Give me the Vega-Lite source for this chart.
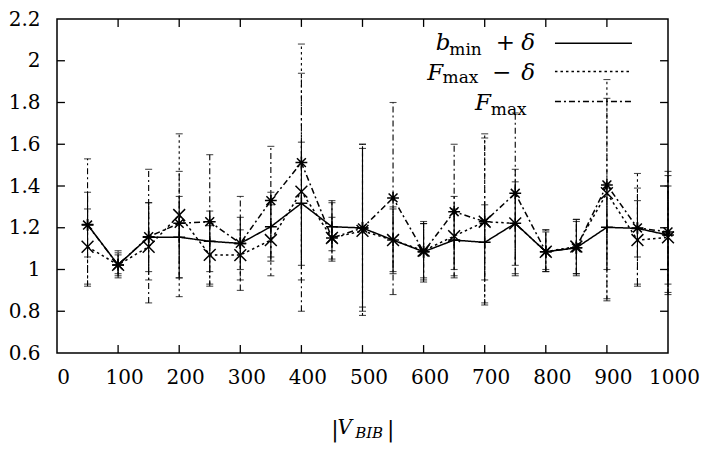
{
  "$schema": "https://vega.github.io/schema/vega-lite/v6.json",
  "autosize": "none",
  "padding": {"left": 57, "top": 19, "right": 41, "bottom": 99},
  "width": 611,
  "height": 334,
  "config": {
    "view": {"stroke": "#000", "strokeWidth": 1.5},
    "font": "DejaVu Serif",
    "axis": {
      "labelFont": "DejaVu Serif",
      "labelFontSize": 20,
      "labelColor": "#000",
      "labelOverlap": false,
      "labelFlush": false,
      "ticks": false,
      "tickSize": 0,
      "domain": false,
      "grid": false,
      "title": null
    }
  },
  "datasets": {
    "pts": [
      {"x": 50, "s": "bmin+δ", "y": 1.215, "lo": 1.06, "hi": 1.37},
      {"x": 100, "s": "bmin+δ", "y": 1.022, "lo": 0.97, "hi": 1.07},
      {"x": 150, "s": "bmin+δ", "y": 1.155, "lo": 0.99, "hi": 1.32},
      {"x": 200, "s": "bmin+δ", "y": 1.155, "lo": 0.96, "hi": 1.35},
      {"x": 250, "s": "bmin+δ", "y": 1.135, "lo": 0.99, "hi": 1.28},
      {"x": 300, "s": "bmin+δ", "y": 1.125, "lo": 1.0, "hi": 1.25},
      {"x": 350, "s": "bmin+δ", "y": 1.205, "lo": 1.04, "hi": 1.37},
      {"x": 400, "s": "bmin+δ", "y": 1.317, "lo": 1.02, "hi": 1.61},
      {"x": 450, "s": "bmin+δ", "y": 1.205, "lo": 1.09, "hi": 1.33},
      {"x": 500, "s": "bmin+δ", "y": 1.199, "lo": 0.82, "hi": 1.58},
      {"x": 550, "s": "bmin+δ", "y": 1.141, "lo": 0.99, "hi": 1.29},
      {"x": 600, "s": "bmin+δ", "y": 1.085, "lo": 0.95, "hi": 1.22},
      {"x": 650, "s": "bmin+δ", "y": 1.141, "lo": 1.0, "hi": 1.29},
      {"x": 700, "s": "bmin+δ", "y": 1.13, "lo": 0.95, "hi": 1.31},
      {"x": 750, "s": "bmin+δ", "y": 1.221, "lo": 1.02, "hi": 1.42},
      {"x": 800, "s": "bmin+δ", "y": 1.085, "lo": 0.99, "hi": 1.18},
      {"x": 850, "s": "bmin+δ", "y": 1.104, "lo": 0.98, "hi": 1.23},
      {"x": 900, "s": "bmin+δ", "y": 1.202, "lo": 1.0, "hi": 1.41},
      {"x": 950, "s": "bmin+δ", "y": 1.197, "lo": 1.06, "hi": 1.33},
      {"x": 1000, "s": "bmin+δ", "y": 1.165, "lo": 0.93, "hi": 1.4},
      {"x": 50, "s": "Fmax−δ", "y": 1.109, "lo": 0.93, "hi": 1.29},
      {"x": 100, "s": "Fmax−δ", "y": 1.022, "lo": 0.98, "hi": 1.09},
      {"x": 150, "s": "Fmax−δ", "y": 1.109, "lo": 0.95, "hi": 1.32},
      {"x": 200, "s": "Fmax−δ", "y": 1.261, "lo": 0.87, "hi": 1.65},
      {"x": 250, "s": "Fmax−δ", "y": 1.07, "lo": 0.93, "hi": 1.21},
      {"x": 300, "s": "Fmax−δ", "y": 1.069, "lo": 0.95, "hi": 1.19},
      {"x": 350, "s": "Fmax−δ", "y": 1.141, "lo": 0.97, "hi": 1.31},
      {"x": 400, "s": "Fmax−δ", "y": 1.373, "lo": 0.95, "hi": 2.08},
      {"x": 450, "s": "Fmax−δ", "y": 1.151, "lo": 1.05, "hi": 1.25},
      {"x": 500, "s": "Fmax−δ", "y": 1.185, "lo": 0.78, "hi": 1.6},
      {"x": 550, "s": "Fmax−δ", "y": 1.141, "lo": 0.98, "hi": 1.3},
      {"x": 600, "s": "Fmax−δ", "y": 1.09, "lo": 0.96, "hi": 1.22},
      {"x": 650, "s": "Fmax−δ", "y": 1.16, "lo": 0.97, "hi": 1.35},
      {"x": 700, "s": "Fmax−δ", "y": 1.229, "lo": 0.84, "hi": 1.65},
      {"x": 750, "s": "Fmax−δ", "y": 1.221, "lo": 0.97, "hi": 1.48},
      {"x": 800, "s": "Fmax−δ", "y": 1.085, "lo": 1.0, "hi": 1.19},
      {"x": 850, "s": "Fmax−δ", "y": 1.11, "lo": 0.97, "hi": 1.24},
      {"x": 900, "s": "Fmax−δ", "y": 1.366, "lo": 0.86, "hi": 1.91},
      {"x": 950, "s": "Fmax−δ", "y": 1.141, "lo": 0.92, "hi": 1.46},
      {"x": 1000, "s": "Fmax−δ", "y": 1.154, "lo": 0.89, "hi": 1.45},
      {"x": 50, "s": "Fmax", "y": 1.213, "lo": 0.92, "hi": 1.53},
      {"x": 100, "s": "Fmax", "y": 1.022, "lo": 0.96, "hi": 1.08},
      {"x": 150, "s": "Fmax", "y": 1.157, "lo": 0.84, "hi": 1.48},
      {"x": 200, "s": "Fmax", "y": 1.221, "lo": 0.96, "hi": 1.47},
      {"x": 250, "s": "Fmax", "y": 1.229, "lo": 0.92, "hi": 1.55},
      {"x": 300, "s": "Fmax", "y": 1.125, "lo": 0.9, "hi": 1.35},
      {"x": 350, "s": "Fmax", "y": 1.33, "lo": 1.06, "hi": 1.59},
      {"x": 400, "s": "Fmax", "y": 1.512, "lo": 0.8, "hi": 1.94},
      {"x": 450, "s": "Fmax", "y": 1.151, "lo": 1.04, "hi": 1.32},
      {"x": 500, "s": "Fmax", "y": 1.199, "lo": 0.8, "hi": 1.6},
      {"x": 550, "s": "Fmax", "y": 1.343, "lo": 0.88, "hi": 1.8},
      {"x": 600, "s": "Fmax", "y": 1.085, "lo": 0.94, "hi": 1.23},
      {"x": 650, "s": "Fmax", "y": 1.277, "lo": 0.96, "hi": 1.6},
      {"x": 700, "s": "Fmax", "y": 1.229, "lo": 0.83, "hi": 1.63},
      {"x": 750, "s": "Fmax", "y": 1.365, "lo": 0.98, "hi": 1.75},
      {"x": 800, "s": "Fmax", "y": 1.085, "lo": 0.99, "hi": 1.19},
      {"x": 850, "s": "Fmax", "y": 1.104, "lo": 0.98, "hi": 1.24},
      {"x": 900, "s": "Fmax", "y": 1.405, "lo": 0.85, "hi": 1.82},
      {"x": 950, "s": "Fmax", "y": 1.199, "lo": 0.93, "hi": 1.39},
      {"x": 1000, "s": "Fmax", "y": 1.18, "lo": 0.88, "hi": 1.47}
    ],
    "ticks": [
      {"axis": "x", "v": 100}, {"axis": "x", "v": 200}, {"axis": "x", "v": 300},
      {"axis": "x", "v": 400}, {"axis": "x", "v": 500}, {"axis": "x", "v": 600},
      {"axis": "x", "v": 700}, {"axis": "x", "v": 800}, {"axis": "x", "v": 900},
      {"axis": "y", "v": 0.8}, {"axis": "y", "v": 1.0}, {"axis": "y", "v": 1.2},
      {"axis": "y", "v": 1.4}, {"axis": "y", "v": 1.6}, {"axis": "y", "v": 1.8},
      {"axis": "y", "v": 2.0}
    ],
    "key": [
      {"s": "bmin+δ", "x1": 815, "x2": 941, "y": 2.084},
      {"s": "Fmax−δ", "x1": 815, "x2": 941, "y": 1.948},
      {"s": "Fmax", "x1": 815, "x2": 941, "y": 1.805}
    ],
    "words": [
      {"role": "sym", "t": "b", "x": 620, "y": 2.053},
      {"role": "sub", "t": "min", "x": 642, "y": 2.029},
      {"role": "op", "t": "+", "x": 718, "y": 2.053},
      {"role": "sym", "t": "δ", "x": 760, "y": 2.053},
      {"role": "sym", "t": "F", "x": 606, "y": 1.909},
      {"role": "sub", "t": "max", "x": 631, "y": 1.894},
      {"role": "op", "t": "−", "x": 712, "y": 1.909},
      {"role": "sym", "t": "δ", "x": 760, "y": 1.909},
      {"role": "sym", "t": "F", "x": 684, "y": 1.765},
      {"role": "sub", "t": "max", "x": 710, "y": 1.741},
      {"role": "bar", "t": "|", "x": 449, "y": 0.198},
      {"role": "var", "t": "V", "x": 459, "y": 0.212},
      {"role": "varsub", "t": "BIB", "x": 488, "y": 0.193},
      {"role": "bar", "t": "|", "x": 540, "y": 0.198}
    ]
  },
  "layer": [
    {
      "data": {"name": "pts"},
      "mark": {"type": "rule", "color": "#000", "strokeWidth": 1.1},
      "encoding": {
        "x": {"field": "x", "type": "quantitative", "scale": {"domain": [0, 1000], "nice": false},
              "axis": {"values": [0, 100, 200, 300, 400, 500, 600, 700, 800, 900, 1000], "format": "d", "labelPadding": 14, "labelOffset": 6}},
        "y": {"field": "lo", "type": "quantitative", "scale": {"domain": [0.6, 2.2], "nice": false, "zero": false},
              "axis": {"values": [0.6, 0.8, 1, 1.2, 1.4, 1.6, 1.8, 2, 2.2], "format": "~g", "labelPadding": 17}},
        "y2": {"field": "hi"},
        "strokeDash": {"field": "s", "type": "nominal", "legend": null,
          "scale": {"domain": ["bmin+δ", "Fmax−δ", "Fmax"], "range": [[1, 0], [2.5, 3], [6, 3, 2, 3]]}}
      }
    },
    {
      "data": {"name": "pts"},
      "mark": {"type": "tick", "orient": "horizontal", "color": "#000", "size": 7, "thickness": 1.1},
      "encoding": {
        "x": {"field": "x", "type": "quantitative"},
        "y": {"field": "hi", "type": "quantitative"}
      }
    },
    {
      "data": {"name": "pts"},
      "mark": {"type": "tick", "orient": "horizontal", "color": "#000", "size": 7, "thickness": 1.1},
      "encoding": {
        "x": {"field": "x", "type": "quantitative"},
        "y": {"field": "lo", "type": "quantitative"}
      }
    },
    {
      "data": {"name": "pts"},
      "mark": {"type": "line", "color": "#000", "strokeWidth": 1.5},
      "encoding": {
        "x": {"field": "x", "type": "quantitative"},
        "y": {"field": "y", "type": "quantitative"},
        "detail": {"field": "s"},
        "strokeDash": {"field": "s", "type": "nominal", "legend": null}
      }
    },
    {
      "data": {"name": "pts"},
      "mark": {"type": "point", "filled": false, "color": "#000", "strokeWidth": 1.5, "size": 140, "opacity": 1},
      "encoding": {
        "x": {"field": "x", "type": "quantitative"},
        "y": {"field": "y", "type": "quantitative"},
        "shape": {"field": "s", "type": "nominal", "legend": null,
          "scale": {"domain": ["bmin+δ", "Fmax−δ", "Fmax"],
                    "range": ["M-1,0L1,0M0,-1L0,1", "M-1,-1L1,1M-1,1L1,-1", "M-1,0L1,0M0,-1L0,1M-0.75,-0.75L0.75,0.75M-0.75,0.75L0.75,-0.75"]}}
      }
    },
    {
      "data": {"name": "ticks"},
      "transform": [{"filter": "datum.axis === 'y'"}],
      "mark": {"type": "rule", "color": "#000", "strokeWidth": 1.3},
      "encoding": {"x": {"datum": 0}, "x2": {"datum": 13}, "y": {"field": "v", "type": "quantitative"}}
    },
    {
      "data": {"name": "ticks"},
      "transform": [{"filter": "datum.axis === 'y'"}],
      "mark": {"type": "rule", "color": "#000", "strokeWidth": 1.3},
      "encoding": {"x": {"datum": 987}, "x2": {"datum": 1000}, "y": {"field": "v", "type": "quantitative"}}
    },
    {
      "data": {"name": "ticks"},
      "transform": [{"filter": "datum.axis === 'x'"}],
      "mark": {"type": "rule", "color": "#000", "strokeWidth": 1.3},
      "encoding": {"y": {"datum": 0.6}, "y2": {"datum": 0.638}, "x": {"field": "v", "type": "quantitative"}}
    },
    {
      "data": {"name": "ticks"},
      "transform": [{"filter": "datum.axis === 'x'"}],
      "mark": {"type": "rule", "color": "#000", "strokeWidth": 1.3},
      "encoding": {"y": {"datum": 2.162}, "y2": {"datum": 2.2}, "x": {"field": "v", "type": "quantitative"}}
    },
    {
      "data": {"name": "key"},
      "mark": {"type": "rule", "color": "#000", "strokeWidth": 1.5},
      "encoding": {
        "x": {"field": "x1", "type": "quantitative"},
        "x2": {"field": "x2"},
        "y": {"field": "y", "type": "quantitative"},
        "strokeDash": {"field": "s", "type": "nominal", "legend": null}
      }
    },
    {
      "data": {"name": "words"},
      "transform": [{"filter": "datum.role === 'sym'"}],
      "mark": {"type": "text", "align": "left", "baseline": "alphabetic", "font": "DejaVu Serif", "fontStyle": "italic", "fontSize": 23, "color": "#000"},
      "encoding": {
        "x": {"field": "x", "type": "quantitative"},
        "y": {"field": "y", "type": "quantitative"},
        "text": {"field": "t"}
      }
    },
    {
      "data": {"name": "words"},
      "transform": [{"filter": "datum.role === 'sub'"}],
      "mark": {"type": "text", "align": "left", "baseline": "alphabetic", "font": "DejaVu Serif", "fontSize": 17, "color": "#000"},
      "encoding": {
        "x": {"field": "x", "type": "quantitative"},
        "y": {"field": "y", "type": "quantitative"},
        "text": {"field": "t"}
      }
    },
    {
      "data": {"name": "words"},
      "transform": [{"filter": "datum.role === 'op'"}],
      "mark": {"type": "text", "align": "left", "baseline": "alphabetic", "font": "DejaVu Serif", "fontSize": 23, "color": "#000"},
      "encoding": {
        "x": {"field": "x", "type": "quantitative"},
        "y": {"field": "y", "type": "quantitative"},
        "text": {"field": "t"}
      }
    },
    {
      "data": {"name": "words"},
      "transform": [{"filter": "datum.role === 'bar'"}],
      "mark": {"type": "text", "align": "left", "baseline": "alphabetic", "font": "DejaVu Serif", "fontSize": 22, "color": "#000"},
      "encoding": {
        "x": {"field": "x", "type": "quantitative"},
        "y": {"field": "y", "type": "quantitative"},
        "text": {"field": "t"}
      }
    },
    {
      "data": {"name": "words"},
      "transform": [{"filter": "datum.role === 'var'"}],
      "mark": {"type": "text", "align": "left", "baseline": "alphabetic", "font": "DejaVu Serif", "fontStyle": "italic", "fontSize": 20, "color": "#000"},
      "encoding": {
        "x": {"field": "x", "type": "quantitative"},
        "y": {"field": "y", "type": "quantitative"},
        "text": {"field": "t"}
      }
    },
    {
      "data": {"name": "words"},
      "transform": [{"filter": "datum.role === 'varsub'"}],
      "mark": {"type": "text", "align": "left", "baseline": "alphabetic", "font": "DejaVu Serif", "fontStyle": "italic", "fontSize": 15, "color": "#000"},
      "encoding": {
        "x": {"field": "x", "type": "quantitative"},
        "y": {"field": "y", "type": "quantitative"},
        "text": {"field": "t"}
      }
    }
  ]
}
